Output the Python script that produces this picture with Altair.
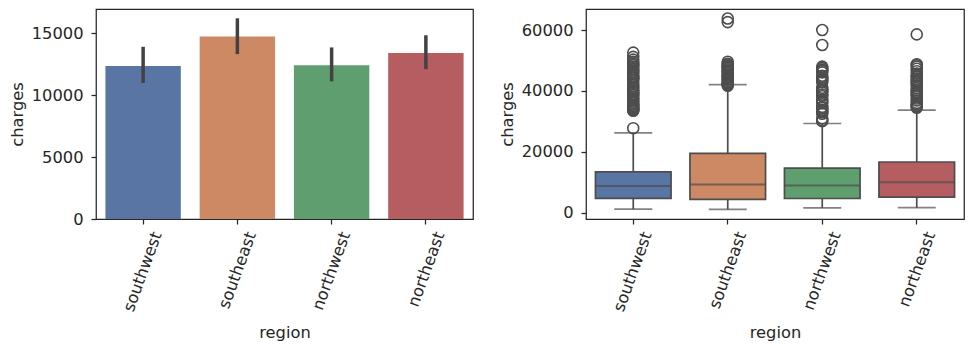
import altair as alt
import pandas as pd

regions = ["southwest", "southeast", "northwest", "northeast"]
colors = ["#5975a4", "#cc8963", "#5f9e6e", "#b55d60"]

# bar chart: mean charges with 95% CI
mean_charges = [12346.9, 14735.4, 12417.6, 13406.4]
ci_low = [10980, 13310, 11110, 12100]
ci_high = [13900, 16200, 13850, 14830]

# box plot stats
q1 = [4751.1, 4440.9, 4719.7, 5194.3]
median = [8798.6, 9294.1, 8965.8, 10057.7]
q3 = [13462.5, 19526.3, 14711.7, 16687.4]
whisker_low = [1241.6, 1121.9, 1621.3, 1694.8]
whisker_high = [26236.6, 42112.2, 29330.98, 33732.7]

out_southwest = [27800, 33500, 33700, 34000, 34300, 34700, 35100, 35500, 36000, 36500,
                 37000, 37500, 38000, 38700, 39000, 39700, 40200, 40900, 41500, 42100,
                 42800, 43600, 44200, 44500, 45000, 45700, 46200, 46700, 47300, 47900,
                 48500, 48900, 49600, 50300, 51200, 52600]
out_southeast = [41700, 42000, 42300, 42500, 42800, 43300, 43800, 44200, 44600, 45000,
                 45400, 45900, 46300, 46700, 47100, 47500, 47900, 48300, 48700, 48900,
                 49600, 62600, 63770]
out_northwest = [30100, 30300, 31000, 32500, 33000, 33500, 33800, 34400, 34800, 36000,
                 36600, 37100, 38300, 38800, 39500, 40000, 40400, 41000, 42900, 43500,
                 43900, 44400, 45000, 46100, 46600, 47000, 47500, 48000, 55100, 60021]
out_northeast = [34500, 34800, 35100, 35600, 36100, 36900, 37500, 38300, 38800, 39200,
                 39700, 40200, 40900, 41700, 42300, 42800, 43300, 43900, 44600, 45000,
                 45700, 46500, 47300, 48000, 48500, 48800, 58571]

left_ticks = [0, 5000, 10000, 15000]
right_ticks = [0, 20000, 40000, 60000]

LINE = "#4d4d4d"
TEXT = "#262626"
FONT = "DejaVu Sans"
FS = 16.3

bar_df = pd.DataFrame({"region": regions, "charges": mean_charges,
                       "lo": ci_low, "hi": ci_high})
box_df = pd.DataFrame({"region": regions, "q1": q1, "median": median, "q3": q3,
                       "wlo": whisker_low, "whi": whisker_high})
out_rows = []
for r, vals in zip(regions, [out_southwest, out_southeast, out_northwest, out_northeast]):
    for v in vals:
        out_rows.append({"region": r, "charges": v})
out_df = pd.DataFrame(out_rows)

xscale = alt.Scale(domain=regions, paddingInner=0.2, paddingOuter=0.1)
xaxis = alt.Axis(title="region", labelAngle=290, labelAlign="right", labelBaseline="middle",
                 labelOffset=14, labelPadding=8, titlePadding=11,
                 labelFont=FONT, titleFont=FONT, labelFontSize=FS, titleFontSize=FS)
x = alt.X("region:N", scale=xscale, axis=xaxis, sort=regions)
color = alt.Color("region:N", scale=alt.Scale(domain=regions, range=colors), legend=None)

W, H = 377, 210

# Left: bar chart
ly = alt.Scale(domain=[0, 16950], nice=False, zero=False)
lyaxis = alt.Axis(title="charges", values=left_ticks, format="d", labelPadding=8, titlePadding=6,
                  labelFont=FONT, titleFont=FONT, labelFontSize=FS, titleFontSize=FS)
bars = alt.Chart(bar_df).mark_bar().encode(
    x=x, y=alt.Y("charges:Q", scale=ly, axis=lyaxis), color=color)
err = alt.Chart(bar_df).mark_rule(color="#424242", strokeWidth=3.5).encode(
    x=x, y=alt.Y("lo:Q", scale=ly, axis=lyaxis), y2="hi:Q")
left = alt.layer(bars, err).properties(width=W, height=H)

# Right: box plot
ry = alt.Scale(domain=[-2010, 66900], nice=False, zero=False)
ryaxis = alt.Axis(title="charges", values=right_ticks, format="d", labelPadding=8, titlePadding=6,
                  labelFont=FONT, titleFont=FONT, labelFontSize=FS, titleFontSize=FS)
w_low = alt.Chart(box_df).mark_rule(color=LINE, strokeWidth=1.7).encode(
    x=x, y=alt.Y("wlo:Q", scale=ry, axis=ryaxis), y2="q1:Q")
w_high = alt.Chart(box_df).mark_rule(color=LINE, strokeWidth=1.7).encode(
    x=x, y=alt.Y("q3:Q", scale=ry, axis=ryaxis), y2="whi:Q")
cap_low = alt.Chart(box_df).mark_tick(color=LINE, size=38, thickness=1.7).encode(
    x=x, y=alt.Y("wlo:Q", scale=ry, axis=ryaxis))
cap_high = alt.Chart(box_df).mark_tick(color=LINE, size=38, thickness=1.7).encode(
    x=x, y=alt.Y("whi:Q", scale=ry, axis=ryaxis))
box = alt.Chart(box_df).mark_bar(stroke=LINE, strokeWidth=1.7, opacity=1).encode(
    x=x, y=alt.Y("q1:Q", scale=ry, axis=ryaxis), y2="q3:Q", color=color)
med = alt.Chart(box_df).mark_tick(color=LINE, size=75, thickness=1.9).encode(
    x=x, y=alt.Y("median:Q", scale=ry, axis=ryaxis))
pts = alt.Chart(out_df).mark_point(shape="circle", filled=False, color=LINE,
                                    size=120, strokeWidth=1.6, opacity=1).encode(
    x=x, y=alt.Y("charges:Q", scale=ry, axis=ryaxis))
right = alt.layer(w_low, w_high, cap_low, cap_high, box, med, pts).properties(width=378, height=H)

chart = alt.hconcat(left, right, spacing=24).properties(
    padding={"left": 8, "top": 8, "right": 10, "bottom": 4}
).configure_view(stroke=TEXT, strokeWidth=1.25).configure_axis(
    labelFont=FONT, titleFont=FONT, labelFontSize=FS, titleFontSize=FS,
    titleFontWeight="normal", labelColor=TEXT, titleColor=TEXT, tickColor=TEXT,
    tickSize=5, tickWidth=1.25, domain=False, grid=False
)

chart.save("out.html", embed_options={"renderer": "svg", "actions": False})
